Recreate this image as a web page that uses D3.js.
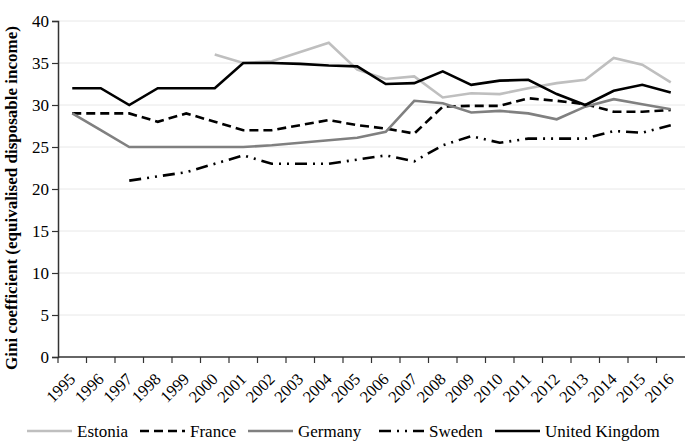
<!DOCTYPE html>
<html><head><meta charset="utf-8">
<script src="https://cdn.jsdelivr.net/npm/d3@7"></script>
<style>body{margin:0;background:#fff}svg{display:block}</style>
</head><body>
<svg id="c" width="685" height="443"></svg>
<script>
const years = ["1995","1996","1997","1998","1999","2000","2001","2002","2003","2004","2005","2006","2007","2008","2009","2010","2011","2012","2013","2014","2015","2016"];
const estonia = [null,null,null,null,null,36.0,35.0,35.2,36.3,37.4,34.2,33.1,33.4,30.9,31.4,31.3,32.0,32.6,33.0,35.6,34.8,32.7];
const france  = [29,29,29,28,29,28,27,27,27.6,28.2,27.6,27.2,26.6,29.8,29.9,29.9,30.8,30.5,30.1,29.2,29.2,29.4];
const germany = [29,27,25,25,25,25,25,25.2,25.5,25.8,26.1,26.8,30.5,30.2,29.1,29.3,29.0,28.3,29.8,30.7,30.1,29.5];
const sweden  = [null,null,21,21.5,22,23,24,23,23,23,23.5,24,23.3,25.2,26.3,25.5,26,26,26,26.9,26.7,27.6];
const uk      = [32,32,30,32,32,32,35,35,34.9,34.7,34.6,32.5,32.6,34.0,32.4,32.9,33.0,31.3,30.0,31.7,32.4,31.5];
const yTicks = [0,5,10,15,20,25,30,35,40];
const seriesNames = ["Estonia","France","Germany","Sweden","United Kingdom"];

const styles = {
  "Estonia": {color:"#bfbfbf", dash:null},
  "France": {color:"#000", dash:"9,5"},
  "Germany": {color:"#808080", dash:null},
  "Sweden": {color:"#000", dash:"12,6,2,6,2,6"},
  "United Kingdom": {color:"#000", dash:null}
};
const data = {"Estonia":estonia,"France":france,"Germany":germany,"Sweden":sweden,"United Kingdom":uk};

// pick an installed serif font
function pickFont(cands){
  const c = document.createElement("canvas").getContext("2d");
  const s = "Gini coefficient 1995 WMmli";
  const base = {};
  ["monospace","sans-serif"].forEach(b=>{c.font = "40px " + b; base[b] = c.measureText(s).width;});
  for (const f of cands){
    for (const b of ["monospace","sans-serif"]){
      c.font = `40px "${f}", ${b}`;
      if (Math.abs(c.measureText(s).width - base[b]) > 0.5) return `"${f}"`;
    }
  }
  return "serif";
}
const font = pickFont(["Liberation Serif","Times New Roman","Tinos","Noto Serif","DejaVu Serif","FreeSerif","Nimbus Roman"]) + ", serif";

const svg = d3.select("#c");
const L = 58, R = 685, T = 21, B = 357;
const x = d3.scaleBand().domain(years).range([L, R]).padding(0);
const y = d3.scaleLinear().domain([0, 40]).range([B, T]);

// grid
svg.append("g").selectAll("line").data(yTicks.filter(d=>d>0)).join("line")
  .attr("x1", L).attr("x2", R).attr("y1", d=>y(d)).attr("y2", d=>y(d))
  .attr("stroke", "#e8e8e8").attr("stroke-width", 1);

// y axis
const ya = svg.append("g").attr("transform", `translate(${L},0)`)
  .call(d3.axisLeft(y).tickValues(yTicks).tickSize(6).tickPadding(3));
ya.attr("font-family", null).attr("font-size", null);
ya.select(".domain").attr("stroke", "#333").attr("stroke-width", 1.5);
ya.selectAll(".tick line").attr("stroke", "#333").attr("stroke-width", 1.2);
ya.selectAll("text").style("font-family", font).style("font-size", "17px").attr("fill", "#000");

// x axis
const xa = svg.append("g").attr("transform", `translate(0,${B})`);
xa.append("line").attr("x1", L).attr("x2", R).attr("stroke", "#333").attr("stroke-width", 1.5);
xa.selectAll("line.tk").data(years).join("line").attr("class","tk")
  .attr("x1", d=>x(d)).attr("x2", d=>x(d)).attr("y1", 0).attr("y2", 6)
  .attr("stroke", "#333").attr("stroke-width", 1.2);
xa.selectAll("text").data(years).join("text")
  .attr("transform", d=>`translate(${x(d)+x.bandwidth()/2},19) rotate(-45)`)
  .attr("text-anchor", "end").attr("dy", "0.35em")
  .style("font-family", font).style("font-size", "16.5px").text(d=>d);

// y title
svg.append("text").attr("transform", "translate(17,198) rotate(-90)")
  .attr("text-anchor", "middle").style("font-family", font).style("font-weight", "bold")
  .style("font-size", "17px").text("Gini coefficient (equivalised disposable income)");

// lines
const line = d3.line().defined(d=>d.v!=null).x(d=>x(d.k)+x.bandwidth()/2).y(d=>y(d.v));
seriesNames.forEach(n => {
  const pts = years.map((k,i)=>({k, v:data[n][i]}));
  svg.append("path").datum(pts).attr("d", line).attr("fill","none")
    .attr("stroke", styles[n].color).attr("stroke-width", 2.6)
    .attr("stroke-dasharray", styles[n].dash);
});

// legend
const legX = [27, 140, 248, 379, 495];
const lg = svg.append("g");
seriesNames.forEach((n,i)=>{
  lg.append("line").attr("x1", legX[i]).attr("x2", legX[i]+45).attr("y1", 431).attr("y2", 431)
    .attr("stroke", styles[n].color).attr("stroke-width", 2.6).attr("stroke-dasharray", styles[n].dash);
  lg.append("text").attr("x", legX[i]+50).attr("y", 437)
    .style("font-family", font).style("font-size", "17px").text(n);
});
</script>
</body></html>
